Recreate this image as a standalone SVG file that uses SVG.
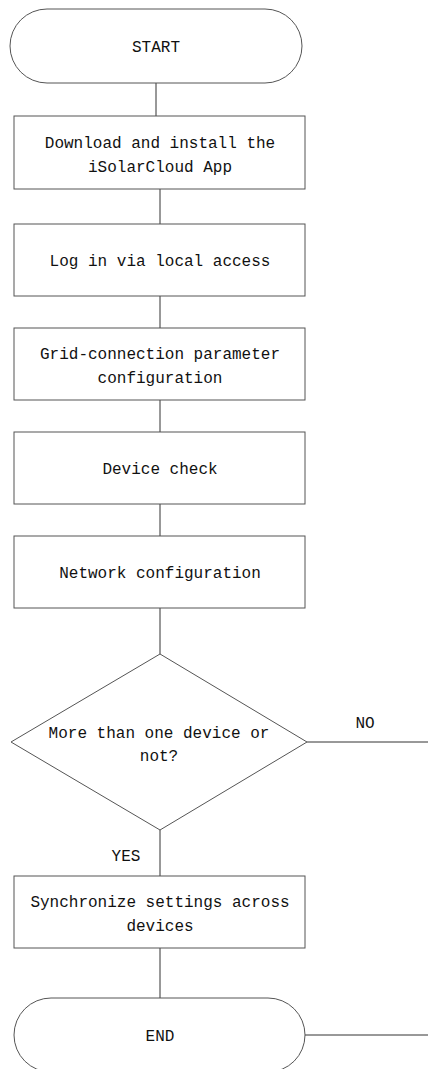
<svg xmlns="http://www.w3.org/2000/svg" width="428" height="1069" viewBox="0 0 428 1069">
<style>
.s{fill:#fff;stroke:#555;stroke-width:1}
.c{fill:none;stroke:#333;stroke-width:1}
text{font-family:"Liberation Mono",monospace;font-size:16px;fill:#111;text-anchor:middle}
</style>
<rect width="428" height="1069" fill="#fff"/>
<g id="connectors">
<line class="c" x1="156" y1="83" x2="156" y2="116"/>
<line class="c" x1="160" y1="189" x2="160" y2="224"/>
<line class="c" x1="160" y1="296" x2="160" y2="328"/>
<line class="c" x1="160" y1="400" x2="160" y2="432"/>
<line class="c" x1="160" y1="504" x2="160" y2="536"/>
<line class="c" x1="160" y1="608" x2="160" y2="654"/>
<line class="c" x1="307" y1="742" x2="428" y2="742"/>
<line class="c" x1="160" y1="830" x2="160" y2="876"/>
<line class="c" x1="160" y1="948" x2="160" y2="998"/>
<line class="c" x1="305" y1="1035" x2="428" y2="1035"/>
<text x="365" y="728">NO</text>
<text x="126" y="861">YES</text>
</g>
<g id="start">
<rect class="s" x="10" y="9" width="292" height="74" rx="37" ry="37"/>
<text x="156" y="52">START</text>
</g>
<g id="download">
<rect class="s" x="14" y="116" width="291" height="73"/>
<text x="160" y="148">Download and install the</text>
<text x="160" y="172">iSolarCloud App</text>
</g>
<g id="login">
<rect class="s" x="14" y="224" width="291" height="72"/>
<text x="160" y="266">Log in via local access</text>
</g>
<g id="grid">
<rect class="s" x="14" y="328" width="291" height="72"/>
<text x="160" y="359">Grid-connection parameter</text>
<text x="160" y="383">configuration</text>
</g>
<g id="check">
<rect class="s" x="14" y="432" width="291" height="72"/>
<text x="160" y="474">Device check</text>
</g>
<g id="network">
<rect class="s" x="14" y="536" width="291" height="72"/>
<text x="160" y="578">Network configuration</text>
</g>
<g id="decision">
<polygon class="s" points="160,654 307,742 160,830 11,742"/>
<text x="159" y="738">More than one device or</text>
<text x="159" y="761">not?</text>
</g>
<g id="sync">
<rect class="s" x="14" y="876" width="291" height="72"/>
<text x="160" y="907">Synchronize settings across</text>
<text x="160" y="931">devices</text>
</g>
<g id="end">
<rect class="s" x="14" y="998" width="291" height="74" rx="37" ry="37"/>
<text x="160" y="1041">END</text>
</g>
</svg>
